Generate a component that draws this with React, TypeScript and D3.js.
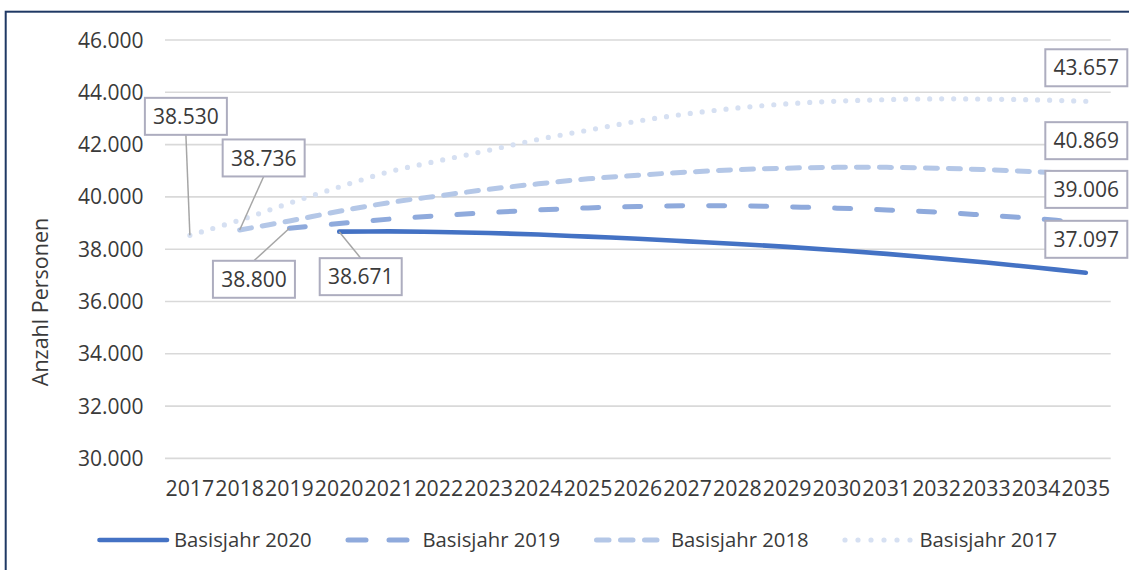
import React from "react";
import * as d3 from "d3";

const years = ["2017","2018","2019","2020","2021","2022","2023","2024","2025","2026","2027","2028","2029","2030","2031","2032","2033","2034","2035"];

const basisjahr2020 = [null, null, null, 38671, 38680, 38660, 38620, 38560, 38480, 38400, 38300, 38200, 38090, 37960, 37820, 37660, 37490, 37300, 37097];
const basisjahr2019 = [null, null, 38800, 38980, 39150, 39280, 39400, 39500, 39580, 39630, 39660, 39660, 39620, 39570, 39500, 39420, 39300, 39170, 39006];
const basisjahr2018 = [null, 38736, 39080, 39450, 39780, 40040, 40290, 40500, 40690, 40830, 40950, 41040, 41100, 41130, 41130, 41100, 41040, 40960, 40869];
const basisjahr2017 = [38530, 39110, 39760, 40380, 40960, 41380, 41780, 42200, 42550, 42900, 43180, 43400, 43560, 43660, 43720, 43750, 43740, 43710, 43657];

const seriesNames = ["Basisjahr 2020", "Basisjahr 2019", "Basisjahr 2018", "Basisjahr 2017"];
const yTicks = [30000, 32000, 34000, 36000, 38000, 40000, 42000, 44000, 46000];

const styles = [
  { color: "#4472C4", width: 4.6, dash: null, legendDash: null },
  { color: "#8FAADC", width: 5, dash: "16 26", legendDash: "18 23" },
  { color: "#B4C7E7", width: 5, dash: "12 11", legendDash: "12.5 11.5" },
  { color: "#D6E0F2", width: 5.2, dash: "0 12", legendDash: "0 13" },
];

// label offsets (box centre relative to point)
const startLabelOffsets = [
  { dx: 21.5, dy: 45 },
  { dx: -35.5, dy: 51 },
  { dx: 24, dy: -72 },
  { dx: -4, dy: -119 },
];
const endLabelOffset = { dx: 0.5, dy: -33.5 };

const fmt = d3.formatLocale({ decimal: ",", thousands: ".", grouping: [3], currency: ["", "€"] }).format(",");

const FONT = "'Open Sans', 'Noto Sans', sans-serif";
const TXT = "#3A3A3A";

export default function App() {
  const W = 1129, H = 570;
  const data = [basisjahr2020, basisjahr2019, basisjahr2018, basisjahr2017];
  const x = d3.scaleBand<string>().domain(years).range([165, 1110.7]);
  const y = d3.scaleLinear().domain([30000, 46000]).range([458.4, 40]);
  const cx = (i: number) => (x(years[i]) as number) + x.bandwidth() / 2;

  const line = d3
    .line<[number, number | null]>()
    .defined((d) => d[1] != null)
    .x((d) => cx(d[0]))
    .y((d) => y(d[1] as number))
    .curve(d3.curveCatmullRom.alpha(0.5));

  const boxW = 82, boxH = 37;

  const labels: any[] = [];
  data.forEach((vals, si) => {
    const first = vals.findIndex((v) => v != null);
    const last = vals.length - 1;
    const px = cx(first), py = y(vals[first] as number);
    const o = startLabelOffsets[si];
    const bx = px + o.dx, by = py + o.dy;
    const edgeY = by > py ? by - boxH / 2 : by + boxH / 2;
    labels.push({ key: `s${si}`, bx, by, text: fmt(vals[first] as number), leader: [bx, edgeY, px, py] });
    const ex = cx(last), ey = y(vals[last] as number);
    labels.push({ key: `e${si}`, bx: ex + endLabelOffset.dx, by: ey + endLabelOffset.dy, text: fmt(vals[last] as number), leader: null });
  });

  const legendX0 = 97, legendStep = 248.5, legendY = 540;

  return (
    <div style={{ position: "absolute", left: 0, top: 0 }}>
      <svg width={W} height={H} style={{ display: "block", background: "#fff" }} fontFamily={FONT}>
        <rect x={5.7} y={11.7} width={1200} height={700} fill="#fff" stroke="#1F3864" strokeWidth={2} />
        {yTicks.map((t) => (
          <g key={t}>
            <line x1={165} x2={1110.7} y1={y(t)} y2={y(t)} stroke="#D9D9D9" strokeWidth={1.6} />
            <text x={143.5} y={y(t)} dy="0.36em" textAnchor="end" fontSize={21} fill={TXT}>
              {fmt(t)}
            </text>
          </g>
        ))}
        {years.map((yr, i) => (
          <text key={yr} x={cx(i)} y={496} textAnchor="middle" fontSize={21.3} fill={TXT}>
            {yr}
          </text>
        ))}
        <text transform="translate(48,302) rotate(-90)" textAnchor="middle" fontSize={21.5} fill={TXT}>
          Anzahl Personen
        </text>
        {data
          .map((vals, si) => ({ vals, si }))
          .reverse()
          .map(({ vals, si }) => (
            <path
              key={si}
              d={line(vals.map((v, i) => [i, v] as [number, number | null])) || ""}
              fill="none"
              stroke={styles[si].color}
              strokeWidth={styles[si].width}
              strokeDasharray={styles[si].dash || undefined}
              strokeLinecap="round"
              strokeLinejoin="round"
            />
          ))}
        {labels.map((l) =>
          l.leader ? (
            <line key={l.key + "L"} x1={l.leader[0]} y1={l.leader[1]} x2={l.leader[2]} y2={l.leader[3]} stroke="#A6A6A6" strokeWidth={1.5} />
          ) : null
        )}
        {labels.map((l) => (
          <g key={l.key}>
            <rect x={l.bx - boxW / 2} y={l.by - boxH / 2} width={boxW} height={boxH} fill="#fff" stroke="#ADADBF" strokeWidth={2} />
            <text x={l.bx} y={l.by} dy="0.36em" textAnchor="middle" fontSize={21} fill={TXT}>
              {l.text}
            </text>
          </g>
        ))}
        {seriesNames.map((name, si) => {
          const lx = legendX0 + si * legendStep;
          return (
            <g key={name}>
              <line
                x1={lx + 2.5}
                x2={lx + 70}
                y1={legendY}
                y2={legendY}
                stroke={styles[si].color}
                strokeWidth={styles[si].width}
                strokeDasharray={styles[si].legendDash || undefined}
                strokeLinecap="round"
              />
              <text x={lx + 77} y={legendY} dy="0.36em" fontSize={20.3} fill={TXT}>
                {name}
              </text>
            </g>
          );
        })}
      </svg>
    </div>
  );
}
